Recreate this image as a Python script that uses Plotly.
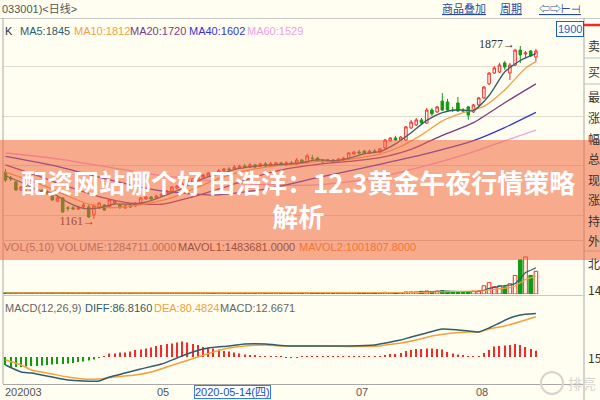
import plotly.graph_objects as go

# ---------------- data ----------------
opens = [1355,1331,1314,1281,1289,1285,1273,1277,1273,1269,1235,1248,1207,1207,1202,1211,1211,1178,1207,1219,
         1211,1227,1219,1207,1215,1215,1227,1244,1252,1248,1256,1264,1277,1289,1298,1306,1314,1327,1335,1339,
         1351,1347,1360,1368,1368,1372,1380,1376,1385,1380,1389,1380,1385,1393,1385,1393,1389,1405,1393,1413,
         1413,1405,1401,1405,1401,1405,1413,1430,1438,1442,1434,1442,1438,1455,1484,1496,1488,1488,1538,1550,
         1571,1558,1612,1604,1649,1645,1612,1641,1612,1625,1604,1633,1662,1720,1765,1769,1807,1765,1798,1860,
         1844,1856,1831]
highs = [1368,1339,1318,1298,1298,1293,1289,1285,1281,1273,1256,1252,1215,1215,1215,1227,1219,1223,1231,1223,
         1244,1240,1223,1219,1223,1231,1252,1256,1256,1260,1269,1281,1298,1302,1314,1327,1331,1339,1347,1355,
         1355,1368,1372,1376,1385,1385,1389,1393,1389,1393,1397,1397,1397,1397,1401,1401,1413,1409,1430,1426,
         1418,1409,1409,1409,1413,1418,1438,1442,1447,1447,1447,1451,1455,1492,1500,1504,1504,1546,1571,1579,
         1579,1620,1620,1629,1682,1658,1625,1666,1620,1629,1637,1666,1711,1769,1794,1807,1815,1807,1865,1877,
         1856,1860,1865]
lows = [1314,1318,1277,1277,1277,1269,1269,1264,1260,1235,1231,1186,1194,1198,1198,1207,1165,1161,1202,1194,
        1207,1223,1202,1202,1207,1211,1223,1240,1240,1244,1252,1260,1273,1285,1293,1302,1310,1322,1331,1335,
        1339,1343,1355,1360,1364,1368,1372,1372,1372,1376,1376,1376,1380,1380,1380,1385,1385,1393,1389,1405,
        1397,1393,1397,1393,1397,1401,1409,1426,1430,1430,1430,1434,1434,1451,1480,1484,1484,1484,1533,1546,
        1554,1554,1587,1600,1608,1608,1604,1604,1604,1571,1600,1629,1658,1716,1761,1765,1778,1736,1794,1807,
        1827,1831,1811]
closes = [1322,1327,1281,1293,1285,1277,1281,1273,1269,1240,1248,1190,1205,1202,1207,1219,1169,1215,1227,1198,
          1240,1235,1211,1215,1211,1227,1248,1252,1244,1256,1264,1277,1293,1298,1306,1322,1327,1335,1343,1351,
          1343,1360,1368,1364,1376,1380,1376,1385,1376,1389,1380,1389,1393,1385,1393,1389,1405,1397,1422,1411,
          1401,1397,1405,1397,1409,1413,1434,1438,1434,1434,1442,1438,1451,1488,1496,1488,1500,1542,1562,1571,
          1558,1612,1596,1625,1612,1612,1610,1608,1608,1591,1633,1662,1707,1765,1786,1798,1790,1798,1860,1840,
          1848,1836,1856]
volumes = [62000,55000,70000,48000,52000,58000,46000,50000,54000,72000,60000,78000,56000,50000,47000,52000,75000,68000,57000,53000,
           60000,52000,49000,51000,46000,55000,62000,50000,48000,53000,56000,58000,64000,55000,57000,60000,54000,52000,56000,58000,
           50000,57000,55000,49000,53000,51000,47000,52000,48000,50000,47000,51000,49000,46000,50000,48000,56000,50000,66000,60000,
           55000,50000,48000,52000,54000,56000,70000,62000,58000,54000,56000,55000,60000,95000,80000,72000,76000,110000,105000,98000,
           150000,170000,140000,160000,190000,150000,120000,140000,110000,130000,160000,180000,
           470000,640000,410000,470000,410000,580000,1050000,1930000,2100000,1050000,1284711]
macd_hist = [-16,-20,-20,-20,-19,-18,-18,-17,-16,-15,-14,-14,-13,-12,-10,-9,-7,-5,-2,1,
             7,7,9,9,11,14,15,17,19,22,24,26,27,29,31,29,26,24,20,19,
             17,15,12,11,9,7,5,4,3,2,
             1,1,1,1,-1,-1,-1,1,1,1,
             1,1,1,1,1,1,1,1,1,1,1,1,1,
             4,6,6,8,12,14,16,16,17,17,16,15,10,7,5,4,1,1,1,
             8,14,21,22,23,24,26,24,20,16,12.67]

ma5_idx = [0,3,6,9,12,15,18,21,24,27,30,33,36,39,42,45,48,51,54,57,60,63,66,69,72,75,78,81,84,87,90,93,96,99,102]
ma5_val = [1340,1313,1283,1268,1230,1205,1207,1223,1222,1231,1253,1278,1309,1336,1353,1370,1379,1384,1388,1394,
           1407,1402,1412,1431,1440,1472,1518,1569,1601,1613,1610,1672,1769,1817,1845]
ma10_idx = [0,4,8,12,16,20,24,28,32,36,40,44,48,52,56,60,64,68,72,76,80,84,88,92,96,100,102]
ma10_val = [1355,1326,1294,1256,1222,1207,1214,1228,1249,1284,1320,1349,1368,1381,1388,1399,1403,1414,1429,1461,
            1509,1567,1601,1627,1695,1785,1812]
ma20_idx = [0,6,12,18,24,30,36,42,48,54,60,66,72,78,84,90,96,102]
ma20_val = [1385,1341,1295,1254,1227,1222,1253,1292,1335,1368,1387,1399,1415,1449,1507,1560,1642,1720]
ma40_idx = [0,10,20,30,40,50,60,70,80,90,96,102]
ma40_val = [1420,1379,1323,1277,1260,1285,1332,1378,1426,1485,1539,1602]
ma60_idx = [0,10,20,30,40,50,59,70,80,90,96,102]
ma60_val = [1434,1410,1375,1340,1318,1303,1301,1326,1377,1439,1484,1529]

mavol1_idx = [0,20,40,60,72,76,80,84,88,91,92,93,94,95,96,97,98,99,100,101,102]
mavol1_val = [60000,58000,56000,54000,57000,77000,108000,162000,142000,144000,210000,316000,372000,434000,480000,
              502000,584000,888000,1214000,1342000,1483681]
mavol2_idx = [0,20,40,60,72,76,80,84,88,91,92,93,94,95,96,97,98,99,100,101,102]
mavol2_val = [60000,57000,55000,53000,56000,66000,90000,127000,143000,148000,181000,229000,251000,283000,312000,
              356000,450000,630000,824000,911000,1001807]

diff_idx = [0,3,5,9,12,15,18,20,23,26,30,33,36,39,43,46,50,52,55,60,66,71,73,76,78,81,84,87,89,91,93,95,97,99,102]
diff_val = [-16,-30,-32,-40,-46,-48,-48,-40,-32,-24,-14,-2,10,18,22,26,26,24,22,22,22,24,28,34,40,48,56,54,52,50,
            58,68,78,84,86.816]
dea_idx = [0,3,5,9,12,15,18,21,25,28,31,34,37,40,43,46,50,53,56,60,66,72,73,76,79,82,86,89,91,93,96,100,102]
dea_val = [-6,-16,-26,-34,-40,-44,-44,-40,-36,-30,-20,-10,0,10,18,22,24,22,22,22,21,22,24,28,34,42,48,50,50,56,
           62,74,80.4824]

ma_labels = ["MA5:1845", "MA10:1812", "MA20:1720", "MA40:1602", "MA60:1529"]
vol_labels = ["VOL(5,10) VOLUME:1284711.0000", "MAVOL1:1483681.0000", "MAVOL2:1001807.8000"]
macd_labels = ["MACD(12,26,9)", "DIFF:86.8160", "DEA:80.4824", "MACD:12.6671"]
date_labels = ["202003", "05", "07", "08"]
side_labels = ["卖", "买", "最", "涨", "幅", "总", "现", "涨", "持", "外", "北", "14", "15"]
title_text = "配资网站哪个好 田浩洋：12.3黄金午夜行情策略<br>解析"

# ---------------- styling / layout helpers ----------------
W, H = 600, 400
BG = "#FFFEF0"
RED = "#F42A2A"
GREEN = "#139A13"
C_MA5, C_MA10, C_MA20, C_MA40, C_MA60 = "#2F5D6B", "#F2A04A", "#7E3A82", "#3434D8", "#EFA2E4"
SANS = "Liberation Sans, Noto Sans CJK SC"
CJK = "Noto Sans CJK SC"

def yp(px):
    return 1 - px / H

def xp(px):
    return px / W

X0, X1 = 3, 583
STEP, OFF = 5.2, 5.5
def xi(px):
    return (px - OFF) / STEP

idx = list(range(len(closes)))
up = [c >= o for o, c in zip(opens, closes)]

fig = go.Figure()

# candles
fig.add_trace(go.Candlestick(
    x=idx, open=opens, high=highs, low=lows, close=closes,
    increasing=dict(line=dict(color=RED, width=1), fillcolor=BG),
    decreasing=dict(line=dict(color=GREEN, width=1), fillcolor=GREEN),
    whiskerwidth=0, xaxis="x", yaxis="y", showlegend=False, hoverinfo="skip"))

for xs, ys, col in [(ma60_idx, ma60_val, C_MA60), (ma40_idx, ma40_val, C_MA40),
                    (ma20_idx, ma20_val, C_MA20), (ma10_idx, ma10_val, C_MA10),
                    (ma5_idx, ma5_val, C_MA5)]:
    fig.add_trace(go.Scatter(x=xs, y=ys, mode="lines", line=dict(color=col, width=1.3, shape="spline", smoothing=0.6),
                             xaxis="x", yaxis="y", showlegend=False, hoverinfo="skip"))

# extreme labels
fig.add_trace(go.Scatter(x=[xi(95), xi(515)], y=[1149, 1881], mode="text",
                         text=["1161→", "1877→"], textposition="middle left",
                         textfont=dict(family="Liberation Serif", size=12, color="#333333"),
                         xaxis="x", yaxis="y", showlegend=False, hoverinfo="skip", cliponaxis=False))

# volume
fig.add_trace(go.Bar(x=idx, y=volumes, width=0.7,
                     marker=dict(color=[BG if u else GREEN for u in up],
                                 line=dict(color=[RED if u else GREEN for u in up], width=1)),
                     xaxis="x2", yaxis="y2", showlegend=False, hoverinfo="skip"))
fig.add_trace(go.Scatter(x=mavol1_idx, y=mavol1_val, mode="lines", line=dict(color=C_MA5, width=1.2),
                         xaxis="x2", yaxis="y2", showlegend=False, hoverinfo="skip"))
fig.add_trace(go.Scatter(x=mavol2_idx, y=mavol2_val, mode="lines", line=dict(color=C_MA10, width=1.2),
                         xaxis="x2", yaxis="y2", showlegend=False, hoverinfo="skip"))
VOL_MAX = 3.0e6
vol_y = (294 - 248) / 53 * VOL_MAX
for txt, px, col in zip(vol_labels, [3.5, 178, 299], ["#7E7E7E", "#333A40", "#EE8A2E"]):
    fig.add_trace(go.Scatter(x=[xi(px)], y=[vol_y], mode="text", text=[txt], textposition="middle right",
                             textfont=dict(family=SANS, size=11, color=col),
                             xaxis="x2", yaxis="y2", showlegend=False, hoverinfo="skip", cliponaxis=False))

# MACD
fig.add_trace(go.Bar(x=idx, y=macd_hist, width=0.22,
                     marker=dict(color=[RED if v >= 0 else GREEN for v in macd_hist], line=dict(width=0)),
                     xaxis="x3", yaxis="y3", showlegend=False, hoverinfo="skip"))
fig.add_trace(go.Scatter(x=dea_idx, y=dea_val, mode="lines", line=dict(color="#F2A040", width=1.5, shape="spline", smoothing=0.5),
                         xaxis="x3", yaxis="y3", showlegend=False, hoverinfo="skip"))
fig.add_trace(go.Scatter(x=diff_idx, y=diff_val, mode="lines", line=dict(color=C_MA5, width=1.5, shape="spline", smoothing=0.5),
                         xaxis="x3", yaxis="y3", showlegend=False, hoverinfo="skip"))

xr = [xi(X0), xi(X1)]
ax_common = dict(range=xr, domain=[xp(X0), xp(X1)], showticklabels=False, showgrid=False,
                 zeroline=False, showline=False, fixedrange=True)
grid_prices = [1791, 1587, 1382, 1177]
fig.update_layout(
    width=W, height=H, margin=dict(l=0, r=0, t=0, b=0),
    paper_bgcolor=BG, plot_bgcolor=BG, showlegend=False,
    xaxis=dict(**ax_common, anchor="y", rangeslider=dict(visible=False)),
    xaxis2=dict(**ax_common, anchor="y2"),
    xaxis3=dict(**ax_common, anchor="y3"),
    yaxis=dict(domain=[yp(240), yp(38)], range=[1074, 1910], tickvals=grid_prices, showticklabels=False,
               showgrid=True, gridcolor="#DCDCD2", gridwidth=1, zeroline=False, fixedrange=True),
    yaxis2=dict(domain=[yp(294), yp(241)], range=[0, VOL_MAX], showticklabels=False, showgrid=False,
                zeroline=False, fixedrange=True),
    yaxis3=dict(domain=[yp(384), yp(298)], range=[-54, 118], showticklabels=False, showgrid=False,
                zeroline=False, fixedrange=True),
)

shapes = []
def hline(y, x0, x1, color, width=1):
    shapes.append(dict(type="line", xref="paper", yref="paper", x0=xp(x0), x1=xp(x1), y0=yp(y), y1=yp(y),
                       line=dict(color=color, width=width)))
def vline(x, y0, y1, color, width=1):
    shapes.append(dict(type="line", xref="paper", yref="paper", x0=xp(x), x1=xp(x), y0=yp(y0), y1=yp(y1),
                       line=dict(color=color, width=width)))

hline(18.5, 0, 600, "#C8C8C8")
vline(3, 18, 384, "#A8A8A8")
vline(584, 18, 400, "#A8A8A8")
hline(240.5, 3, 583, "#D0D0C8")
hline(295.5, 3, 583, "#C8C8C0")
hline(384.5, 3, 583, "#A8A8A8")
hline(58, 584, 600, "#C0C0C0")
hline(84, 584, 600, "#C0C0C0")
hline(251, 584, 600, "#C0C0C0")
hline(25, 584, 600, RED, 2.5)
# watermark logo ring
shapes.append(dict(type="circle", xref="paper", yref="paper", x0=xp(541), x1=xp(563), y0=yp(394), y1=yp(372),
                   line=dict(color="#D4D4D0", width=2)))
# banner overlay
shapes.append(dict(type="rect", xref="paper", yref="paper", x0=0, x1=1, y0=yp(260), y1=yp(140),
                   fillcolor="rgba(242,100,60,0.55)", line=dict(width=0), layer="above"))
fig.update_layout(shapes=shapes)

ann = []
def text(t, x, y, size=11, color="#333", family=SANS, xanchor="left", **kw):
    ann.append(dict(text=t, x=xp(x), y=yp(y), xref="paper", yref="paper", showarrow=False,
                    xanchor=xanchor, yanchor="middle", font=dict(size=size, color=color, family=family), **kw))

# header
text("033001)&lt;日线&gt;", 0, 9, 11, "#555555")
text("<u>商品叠加</u>", 440, 9, 11, "#2A4AA0")
text("<u>周期</u>", 498, 9, 11, "#2A4AA0")
text("<u>⇦⇨⊢⊣</u>", 537, 9, 11, "#2A4AA0")
# MA legend
text("K", 3, 31, 11, "#333333")
for t, x, c in zip(ma_labels, [18, 72, 128, 187, 245], [C_MA5, C_MA10, C_MA20, C_MA40, C_MA60]):
    text(t, x, 31, 11, c)
# price box
text("1900", 570, 29, 11, "#1A5FC8", xanchor="center", bordercolor="#1A5FC8", borderwidth=1,
     borderpad=1, bgcolor="#FFFFFF")
# MACD legend
for t, x, c in zip(macd_labels, [3, 83, 152, 218], ["#666666", C_MA5, "#F0A040", "#666666"]):
    text(t, x, 308, 11, c)
# date axis
text(date_labels[0], 3, 392, 11, "#555555")
for t, x in zip(date_labels[1:], [163, 362, 482]):
    text(t, x, 392, 11, "#555555", xanchor="center")
text("2020-05-14(四)", 233, 392, 11, "#1A4FC0", xanchor="center", bordercolor="#3A7AE0", borderwidth=1,
     borderpad=0, bgcolor="#FFFFFF")
# side panel
for t, y in zip(side_labels, [45, 71, 97, 117, 138, 158, 179, 199, 220, 240, 263, 289, 357]):
    text(t, 586, y, 12, "#333333", family=CJK)
# watermark text
text("排亮", 566, 383, 14, "#D6D6D2", family=CJK)
# title
ann.append(dict(text="<b>" + title_text + "</b>", x=xp(298), y=yp(198), xref="paper", yref="paper",
                showarrow=False, xanchor="center", yanchor="middle", align="center",
                font=dict(size=26, color="#FFFFFF", family=CJK)))
fig.update_layout(annotations=ann)

fig.write_html("out.html")
